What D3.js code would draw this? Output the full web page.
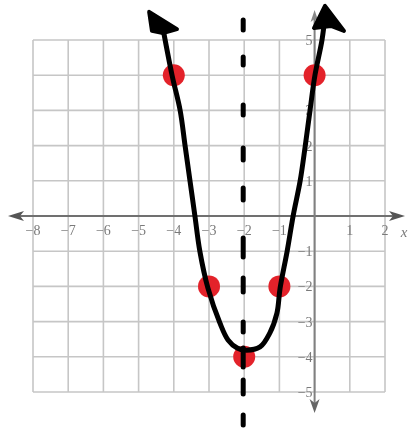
<!DOCTYPE html>
<html>
<head>
<meta charset="utf-8">
<script src="https://cdn.jsdelivr.net/npm/d3@7/dist/d3.min.js"></script>
<style>
  html, body { margin: 0; padding: 0; background: #fff; }
  svg { display: block; }
</style>
</head>
<body>
<script>
// ---- data ----
const xTicks = [-8, -7, -6, -5, -4, -3, -2, -1, 0, 1, 2];
const yTicks = [-5, -4, -3, -2, -1, 0, 1, 2, 3, 4, 5];
const xTickLabels = ["−8", "−7", "−6", "−5", "−4", "−3", "−2", "−1", "", "1", "2"];
const yTickLabels = ["−5", "−4", "−3", "−2", "−1", "", "1", "2", "3", "4", "5"];
const pointsX = [-4, -3, -2, -1, 0];
const pointsY = [4, -2, -4, -2, 4];
// hand-drawn curve
const curveX = [-4.31, -4.05, -3.82, -3.68, -3.54, -3.40, -3.26, -3.03, -2.69, -2.46, -2.20, -1.98, -1.55, -1.27, -1.07, -0.98, -0.78, -0.61, -0.41, -0.27, -0.13, 0.01, 0.21, 0.30];
const curveY = [5.34, 4.0, 3.0, 2.0, 1.0, 0.0, -1.0, -2.05, -3.04, -3.52, -3.75, -3.81, -3.72, -3.32, -2.76, -2.05, -1.0, 0.0, 1.0, 1.96, 3.0, 4.0, 5.0, 5.71];
// hand-drawn arrowheads at the ends of the curve
const leftHeadX = [-4.70, -3.91, -4.31, -4.62];
const leftHeadY = [5.80, 5.31, 5.20, 5.26];
const rightHeadX = [0.295, -0.017, 0.466, 0.835];
const rightHeadY = [5.97, 5.34, 5.40, 5.26];
// axis of symmetry
const symX = -2;
const symY = [5.57, -6.02];

// ---- drawing ----
const W = 410, H = 429;
const svg = d3.select("body").append("svg").attr("width", W).attr("height", H);
const x = d3.scaleLinear().domain([-8, 2]).range([33, 385]);
const y = d3.scaleLinear().domain([-5, 5]).range([392, 40]);

const blur = svg.append("defs").append("filter").attr("id", "soft");
blur.append("feGaussianBlur").attr("stdDeviation", 0.7);

const grid = svg.append("g").attr("stroke", "#c6c6c6").attr("stroke-width", 1.6).attr("filter", "url(#soft)");
grid.selectAll("line.v").data(xTicks).join("line").attr("class", "v")
  .attr("x1", d => x(d)).attr("x2", d => x(d)).attr("y1", y(5)).attr("y2", y(-5));
grid.selectAll("line.h").data(yTicks).join("line").attr("class", "h")
  .attr("y1", d => y(d)).attr("y2", d => y(d)).attr("x1", x(-8)).attr("x2", x(2));

// axes
const ax = svg.append("g").attr("filter", "url(#soft)");
ax.append("line").attr("x1", 14).attr("x2", 398).attr("y1", y(0)).attr("y2", y(0))
  .attr("stroke", "#707070").attr("stroke-width", 2);
ax.append("line").attr("x1", x(0)).attr("x2", x(0)).attr("y1", 16).attr("y2", 404)
  .attr("stroke", "#808080").attr("stroke-width", 2);
ax.append("path").attr("fill", "#555")
  .attr("d", `M8,${y(0)} L24,${y(0)-5} L20,${y(0)} L24,${y(0)+5} Z`);
ax.append("path").attr("fill", "#555")
  .attr("d", `M405,${y(0)} L389,${y(0)-5} L393,${y(0)} L389,${y(0)+5} Z`);
ax.append("path").attr("fill", "#666")
  .attr("d", `M${x(0)},413 L${x(0)-5},399 L${x(0)},403 L${x(0)+5},399 Z`);
ax.append("path").attr("fill", "#888")
  .attr("d", `M${x(0)},10 L${x(0)-4},22 L${x(0)},19 L${x(0)+4},22 Z`);

// tick labels
const lab = svg.append("g").attr("font-family", "'Liberation Serif', 'DejaVu Serif', serif")
  .attr("fill", "#7a7a7a").attr("filter", "url(#soft)");
lab.selectAll("text.x").data(xTicks).join("text").attr("class", "x")
  .attr("x", d => x(d)).attr("y", y(0) + 19).attr("text-anchor", "middle")
  .attr("font-size", 14).text((d, i) => xTickLabels[i]);
lab.selectAll("text.y").data(yTicks).join("text").attr("class", "y")
  .attr("x", x(0) - 2).attr("y", d => y(d) + 5).attr("text-anchor", "end")
  .attr("font-size", 14).text((d, i) => yTickLabels[i]);
lab.append("text").attr("x", 404).attr("y", y(0) + 21).attr("text-anchor", "middle")
  .attr("font-size", 15).attr("font-style", "italic").text("x");

// points
svg.append("g").attr("filter", "url(#soft)").selectAll("circle").data(pointsX).join("circle")
  .attr("cx", d => x(d)).attr("cy", (d, i) => y(pointsY[i])).attr("r", 11)
  .attr("fill", "#e3232b");

// curve
const line = d3.line().x(d => x(d[0])).y(d => y(d[1])).curve(d3.curveCatmullRom.alpha(0.5));
const curvePts = curveX.map((v, i) => [v, curveY[i]]);
svg.append("path").attr("d", line(curvePts)).attr("fill", "none")
  .attr("stroke", "#000").attr("stroke-width", 5).attr("stroke-linecap", "round")
  .attr("stroke-linejoin", "round");

const head = d3.line().x(d => x(d[0])).y(d => y(d[1])).curve(d3.curveLinearClosed);
[[leftHeadX, leftHeadY], [rightHeadX, rightHeadY]].forEach(([hx, hy]) => {
  svg.append("path").attr("d", head(hx.map((v, i) => [v, hy[i]])))
    .attr("fill", "#000").attr("stroke", "#000").attr("stroke-width", 4)
    .attr("stroke-linejoin", "round");
});

// dashed axis of symmetry
svg.append("line").attr("x1", x(symX) - 1).attr("x2", x(symX) - 1)
  .attr("y1", y(symY[0])).attr("y2", y(symY[1]))
  .attr("stroke", "#000").attr("stroke-width", 5).attr("stroke-linecap", "round")
  .attr("stroke-dasharray", "10 27 8 40 10 33 12 28 12 38 19 21 14 30 10 16 19 13 14 21 10");
</script>
</body>
</html>
